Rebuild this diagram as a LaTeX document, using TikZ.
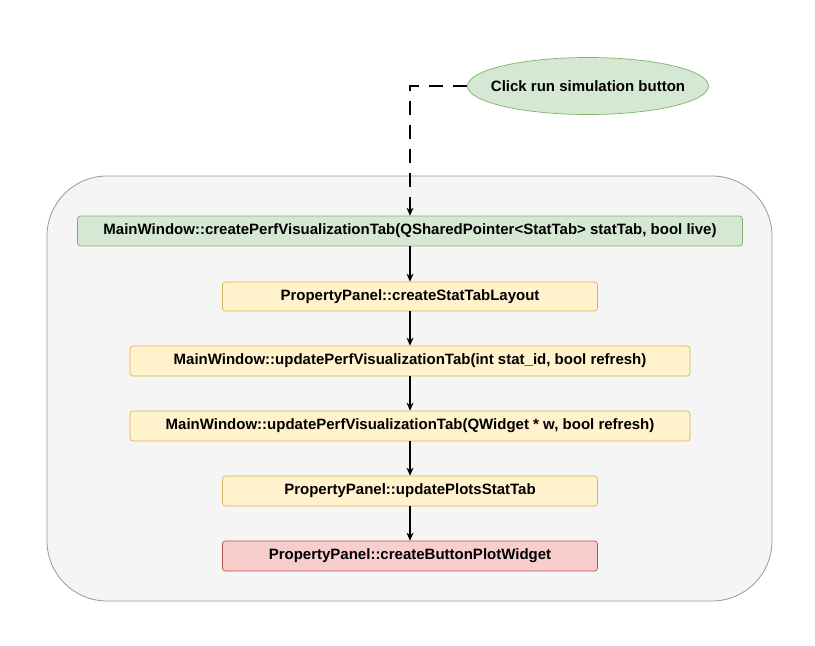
\documentclass[tikz,border=0pt]{standalone}
\usepackage{fontspec}
\setmainfont{Liberation Sans}
\usetikzlibrary{shapes.geometric,arrows.meta}
\definecolor{grnfill}{HTML}{D5E8D4}
\definecolor{grnline}{HTML}{82B366}
\definecolor{yelfill}{HTML}{FFF2CC}
\definecolor{yelline}{HTML}{D6B656}
\definecolor{redfill}{HTML}{F8CECC}
\definecolor{redline}{HTML}{B85450}
\definecolor{panelfill}{HTML}{F5F5F5}
\definecolor{panelline}{HTML}{999999}
\begin{document}
\begin{tikzpicture}[x=1pt,y=-1pt,
  every node/.style={font=\bfseries\fontsize{15}{18}\selectfont, text=black},
  fnbox/.style={draw, rounded corners=3pt, line width=0.7pt, inner sep=0pt},
  call/.style={-{Stealth[length=8pt,width=7pt]}, line width=1.2pt, black},
]
\useasboundingbox (0,0) rectangle (815,646);
% surrounding panel
\draw[fill=panelfill, draw=panelline, line width=0.8pt, rounded corners=60pt] (47,176) rectangle (772,601);
% trigger
\node[ellipse, draw=grnline, fill=grnfill, line width=0.7pt, minimum width=241pt, minimum height=57pt, inner sep=0pt,
      label=center:{Click run simulation button}] (click) at (588,86) {};
% call chain
\node[fnbox, draw=grnline, fill=grnfill, minimum width=665pt, minimum height=30pt] (create) at (410,231) {MainWindow::createPerfVisualizationTab(QSharedPointer<StatTab> statTab, bool live)};
\node[fnbox, draw=yelline, fill=yelfill, minimum width=375pt, minimum height=29pt] (layout) at (410,296.5) {PropertyPanel::createStatTabLayout};
\node[fnbox, draw=yelline, fill=yelfill, minimum width=560pt, minimum height=30pt] (updid) at (410,361) {MainWindow::updatePerfVisualizationTab(int stat\_id, bool refresh)};
\node[fnbox, draw=yelline, fill=yelfill, minimum width=560pt, minimum height=30pt] (updw) at (410,426) {MainWindow::updatePerfVisualizationTab(QWidget * w, bool refresh)};
\node[fnbox, draw=yelline, fill=yelfill, minimum width=375pt, minimum height=30pt] (plots) at (410,491) {PropertyPanel::updatePlotsStatTab};
\node[fnbox, draw=redline, fill=redfill, minimum width=375pt, minimum height=30pt] (button) at (410,556) {PropertyPanel::createButtonPlotWidget};
% connectors
\draw[call, dash pattern=on 14pt off 10pt] (click.west) -| (create.north);
\draw[call] (create) -- (layout);
\draw[call] (layout) -- (updid);
\draw[call] (updid) -- (updw);
\draw[call] (updw) -- (plots);
\draw[call] (plots) -- (button);
\end{tikzpicture}
\end{document}
